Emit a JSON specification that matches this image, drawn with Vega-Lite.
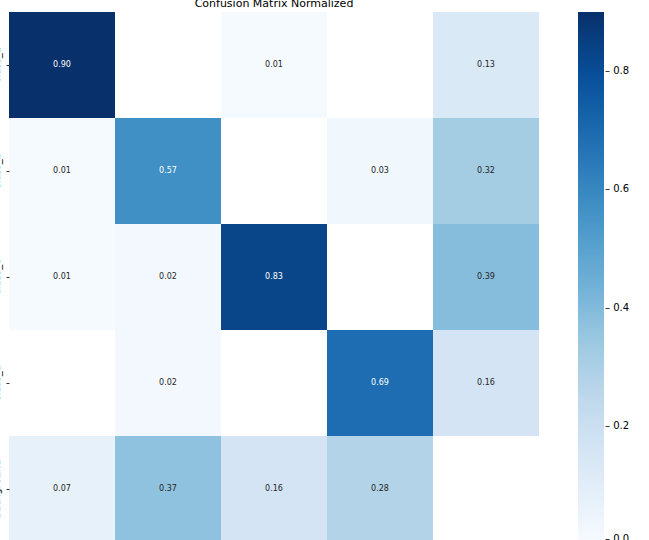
{
  "$schema": "https://vega.github.io/schema/vega-lite/v6.json",
  "width": 530,
  "height": 530,
  "autosize": "none",
  "padding": {"left": 9, "top": 12, "right": 110, "bottom": 0},
  "background": "white",
  "config": {
    "font": "DejaVu Sans",
    "view": {"stroke": null}
  },
  "title": {
    "text": "Confusion Matrix Normalized",
    "fontSize": 11,
    "fontWeight": "normal",
    "font": "DejaVu Sans",
    "color": "#000000",
    "offset": 3,
    "anchor": "middle"
  },
  "data": {
    "values": [
      {"actual": "class_a", "predicted": "class_a", "value": 0.90},
      {"actual": "class_a", "predicted": "class_c", "value": 0.01},
      {"actual": "class_a", "predicted": "background", "value": 0.13},
      {"actual": "class_b", "predicted": "class_a", "value": 0.01},
      {"actual": "class_b", "predicted": "class_b", "value": 0.57},
      {"actual": "class_b", "predicted": "class_d", "value": 0.03},
      {"actual": "class_b", "predicted": "background", "value": 0.32},
      {"actual": "class_c", "predicted": "class_a", "value": 0.01},
      {"actual": "class_c", "predicted": "class_b", "value": 0.02},
      {"actual": "class_c", "predicted": "class_c", "value": 0.83},
      {"actual": "class_c", "predicted": "background", "value": 0.39},
      {"actual": "class_d", "predicted": "class_b", "value": 0.02},
      {"actual": "class_d", "predicted": "class_d", "value": 0.69},
      {"actual": "class_d", "predicted": "background", "value": 0.16},
      {"actual": "background", "predicted": "class_a", "value": 0.07},
      {"actual": "background", "predicted": "class_b", "value": 0.37},
      {"actual": "background", "predicted": "class_c", "value": 0.16},
      {"actual": "background", "predicted": "class_d", "value": 0.28}
    ]
  },
  "encoding": {
    "x": {
      "field": "predicted",
      "type": "nominal",
      "sort": ["class_a", "class_b", "class_c", "class_d", "background"],
      "scale": {"paddingInner": 0, "paddingOuter": 0},
      "axis": {"title": null, "domain": false, "labelAngle": 0, "tickSize": 3, "labelFontSize": 10, "tickColor": "#000000", "labelColor": "#000000"}
    },
    "y": {
      "field": "actual",
      "type": "nominal",
      "sort": ["class_a", "class_b", "class_c", "class_d", "background"],
      "scale": {"paddingInner": 0, "paddingOuter": 0},
      "axis": {"title": null, "domain": false, "labelAngle": 270, "labelAlign": "center", "labelBaseline": "bottom", "tickSize": 3, "labelPadding": 5, "labelFontSize": 10, "tickColor": "#333333", "labelColor": "#000000"}
    }
  },
  "layer": [
    {
      "mark": {"type": "rect"},
      "encoding": {
        "color": {
          "field": "value",
          "type": "quantitative",
          "scale": {
            "domain": [0, 0.1125, 0.225, 0.3375, 0.45, 0.5625, 0.675, 0.7875, 0.9],
            "range": ["#f7fbff", "#deebf7", "#c6dbef", "#9ecae1", "#6baed6", "#4292c6", "#2171b5", "#08519c", "#08306b"],
            "interpolate": "rgb"
          },
          "legend": {
            "title": null,
            "orient": "none",
            "legendX": 569,
            "legendY": 0,
            "direction": "vertical",
            "gradientLength": 532,
            "gradientThickness": 26,
            "gradientStrokeWidth": 0,
            "values": [0, 0.2, 0.4, 0.6, 0.8],
            "format": ".1f",
            "labelExpr": "'– ' + datum.label",
            "labelOffset": 1,
            "labelFontSize": 10,
            "labelColor": "#000000",
            "labelOverlap": false,
            "padding": 0
          }
        }
      }
    },
    {
      "mark": {"type": "text", "fontSize": 8, "font": "DejaVu Sans"},
      "encoding": {
        "text": {"field": "value", "type": "quantitative", "format": ".2f"},
        "color": {
          "condition": {"test": "datum.value > 0.5", "value": "#ffffff"},
          "value": "#262626"
        }
      }
    }
  ]
}
